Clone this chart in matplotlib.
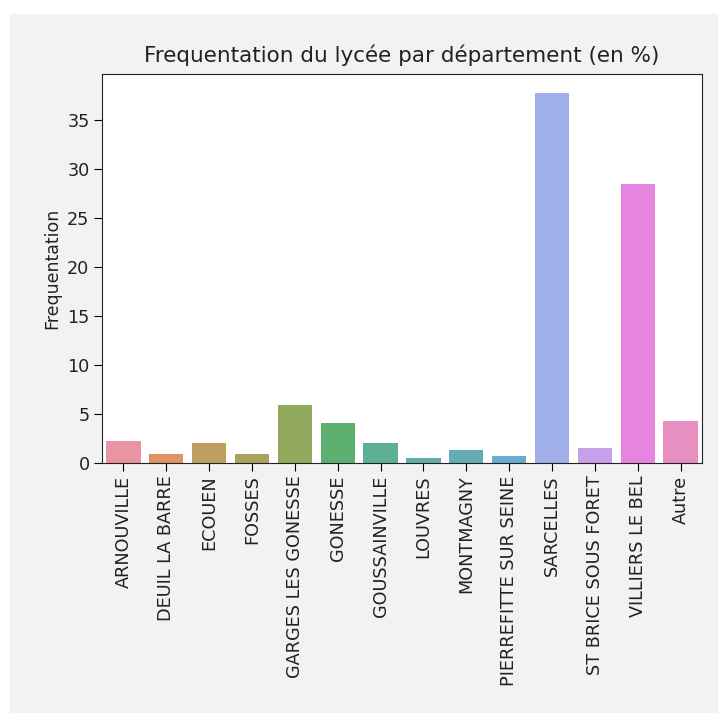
import matplotlib
matplotlib.use("Agg")
import matplotlib.pyplot as plt
import seaborn as sns
from matplotlib.patches import Rectangle

categories = ["ARNOUVILLE", "DEUIL LA BARRE", "ECOUEN", "FOSSES", "GARGES LES GONESSE",
              "GONESSE", "GOUSSAINVILLE", "LOUVRES", "MONTMAGNY", "PIERREFITTE SUR SEINE",
              "SARCELLES", "ST BRICE SOUS FORET", "VILLIERS LE BEL", "Autre"]
values = [2.2, 0.95, 2.0, 0.95, 5.9, 4.05, 2.0, 0.55, 1.3, 0.75, 37.8, 1.5, 28.5, 4.25]

W, H = 718, 713
fig = plt.figure(figsize=(W / 100, H / 100), dpi=100, facecolor="white")
fig.patches.append(Rectangle((10 / W, 0), 1, 1 - 14 / H, transform=fig.transFigure,
                             facecolor="#f2f2f2", edgecolor="none", zorder=-10))

left, right, top, bottom = 102, 702, 74, 463
ax = fig.add_axes([left / W, 1 - bottom / H, (right - left) / W, (bottom - top) / H])
ax.set_facecolor("white")

palette = sns.husl_palette(len(categories))
sns.barplot(x=categories, y=values, hue=categories, palette=palette, legend=False,
            ax=ax, saturation=0.75, alpha=0.85)

ax.set_title("Frequentation du lycée par département (en %)", fontsize=15.5, pad=9,
             color="#222222")
ax.set_ylabel("Frequentation", fontsize=12.5, color="#222222")
ax.tick_params(axis="both", labelsize=12.7, length=5.5, labelcolor="#222222")
ax.tick_params(axis="x", rotation=90)
ax.set_yticks([0, 5, 10, 15, 20, 25, 30, 35])
ax.set_ylim(0, 39.7)
for s in ax.spines.values():
    s.set_color("#222222")

fig.savefig("out.png", dpi=100, facecolor="white")
